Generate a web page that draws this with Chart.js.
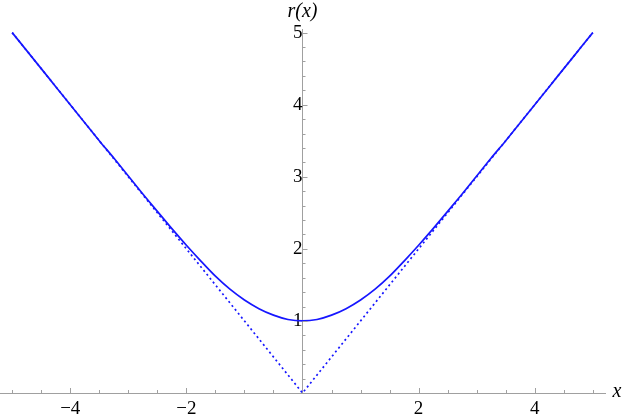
<!DOCTYPE html>
<html>
<head>
<meta charset="utf-8">
<script src="https://cdn.jsdelivr.net/npm/chart.js@4.4.1/dist/chart.umd.min.js"></script>
<style>
  html, body { margin: 0; padding: 0; background: #fff; }
</style>
</head>
<body>
<canvas id="myChart" width="623" height="417"></canvas>
<script>
// curve r(x)
const xValues = [-5, -4.75, -4.5, -4.25, -4, -3.75, -3.5, -3.25, -3, -2.75, -2.5, -2.25, -2, -1.75, -1.5, -1.25, -1, -0.75, -0.5, -0.25,
                 0, 0.25, 0.5, 0.75, 1, 1.25, 1.5, 1.75, 2, 2.25, 2.5, 2.75, 3, 3.25, 3.5, 3.75, 4, 4.25, 4.5, 4.75, 5];
const rValues = [5.00, 4.75, 4.50, 4.25, 4.00, 3.75, 3.50, 3.26, 3.01, 2.76, 2.52, 2.28, 2.05, 1.83, 1.62, 1.44, 1.29, 1.17, 1.08, 1.02,
                 1.00, 1.02, 1.08, 1.17, 1.29, 1.44, 1.62, 1.83, 2.05, 2.28, 2.52, 2.76, 3.01, 3.26, 3.50, 3.75, 4.00, 4.25, 4.50, 4.75, 5.00];
// dotted asymptote |x|
const asymX = [-5, 0, 5];
const asymY = [5, 0, 5];
const xTicks = [-4, -2, 2, 4];
const yTicks = [1, 2, 3, 4, 5];

const blue = "rgb(22,22,255)";
const axisColor = "#a0a0a0";
const serif = "'Liberation Serif', serif";

const toPoints = (xs, ys) => xs.map((v, i) => ({x: v, y: ys[i]}));

// minor/major tick marks drawn inward, plus axis labels
const axisExtras = {
  id: "axisExtras",
  afterDraw(chart) {
    const {ctx, scales: {x, y}} = chart;
    const x0 = x.getPixelForValue(0);
    const y0 = y.getPixelForValue(0);
    ctx.save();
    ctx.strokeStyle = axisColor;
    ctx.lineWidth = 1;
    ctx.beginPath();
    for (let i = -10; i <= 10; i++) {
      if (i === 0) continue;
      const v = i * 0.5;
      const px = Math.round(x.getPixelForValue(v)) + 0.5;
      const len = xTicks.includes(v) ? 5 : 3;
      ctx.moveTo(px, y0);
      ctx.lineTo(px, y0 - len);
    }
    for (let i = 1; i <= 25; i++) {
      const py = Math.round(y.getPixelForValue(i / 5)) + 0.5;
      const len = i % 5 === 0 ? 5 : 3;
      ctx.moveTo(x0, py);
      ctx.lineTo(x0 + len, py);
    }
    ctx.stroke();

    ctx.fillStyle = "#000";
    ctx.font = "italic 20px " + serif;
    ctx.textAlign = "center";
    ctx.textBaseline = "middle";
    ctx.fillText("r(x)", x0, 12);
    ctx.fillText("x", 617, y0 - 1);
    ctx.restore();
  }
};

new Chart(document.getElementById("myChart"), {
  type: "line",
  data: {
    datasets: [
      {
        data: toPoints(xValues, rValues),
        borderColor: blue,
        borderWidth: 1.7,
        pointRadius: 0,
        cubicInterpolationMode: "monotone",
        fill: false
      },
      {
        data: toPoints(asymX, asymY),
        borderColor: blue,
        borderWidth: 1.7,
        borderDash: [2, 3],
        pointRadius: 0,
        tension: 0,
        fill: false
      }
    ]
  },
  options: {
    responsive: false,
    animation: false,
    devicePixelRatio: 1,
    layout: { padding: { left: 0, right: 18, top: 29, bottom: 0 } },
    plugins: { legend: { display: false }, tooltip: { enabled: false } },
    scales: {
      x: {
        type: "linear",
        min: -5.21,
        max: 5.21,
        position: "bottom",
        grid: { display: false, drawTicks: false },
        border: { display: true, color: axisColor, width: 1 },
        afterBuildTicks: s => { s.ticks = xTicks.map(v => ({value: v})); },
        afterFit: s => { s.height = 24; },
        ticks: {
          padding: 5,
          color: "#000",
          font: { family: serif, size: 19 },
          maxRotation: 0,
          callback: v => v < 0 ? "\u2212" + Math.abs(v) : String(v)
        }
      },
      y: {
        type: "linear",
        min: 0,
        max: 5.05,
        position: { x: 0 },
        z: 1,
        grid: { display: false, drawTicks: false },
        border: { display: true, color: axisColor, width: 1 },
        afterBuildTicks: s => { s.ticks = yTicks.map(v => ({value: v})); },
        ticks: {
          padding: 6,
          color: "#000",
          font: { family: serif, size: 19 },
          callback: v => String(v)
        }
      }
    }
  },
  plugins: [axisExtras]
});
</script>
</body>
</html>
